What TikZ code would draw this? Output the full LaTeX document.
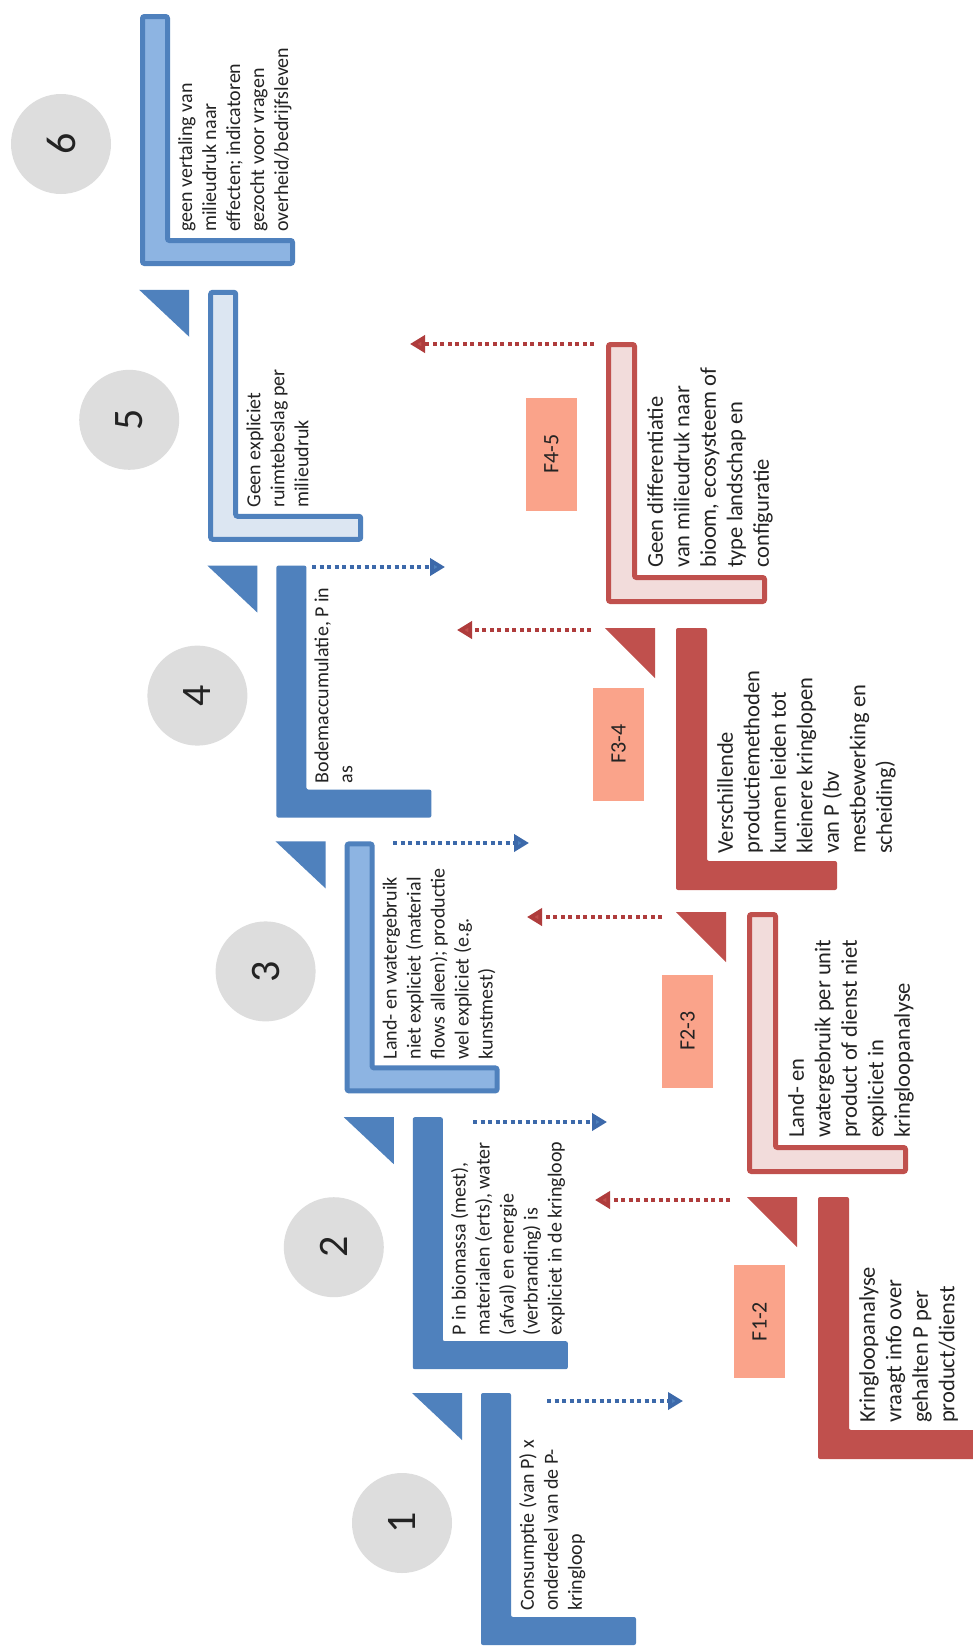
\documentclass[tikz,border=0pt]{standalone}
\usepackage{fontspec}
\setmainfont{Carlito}
\usetikzlibrary{arrows.meta}

\definecolor{stepblue}{RGB}{79,129,189}
\definecolor{dotblue}{RGB}{60,105,170}
\definecolor{midblue}{RGB}{141,180,226}
\definecolor{paleblue}{RGB}{220,230,242}
\definecolor{stepred}{RGB}{192,80,77}
\definecolor{dotred}{RGB}{175,60,60}
\definecolor{palered}{RGB}{242,220,219}
\definecolor{tagfill}{RGB}{250,163,138}
\definecolor{discgray}{RGB}{221,221,221}
\definecolor{inkgray}{RGB}{35,35,35}

% elbow shape: #1 style, (#2,#3) outer top-left, #4 width, #5 height,
% #6 thickness of the upright bar, #7 thickness of the foot
\newcommand\elbow[7]{%
  \path[#1] (#2,#3) -- ++(#6,0) -- ++(0,#5-#7) -- ++(#4-#6,0)
    -- ++(0,#7) -- ++(-#4,0) -- cycle;}

\begin{document}
\begin{tikzpicture}[x=1pt,y=-1pt,
  solidblue/.style={fill=stepblue, rounded corners=2pt},
  midblueline/.style={fill=midblue, draw=stepblue, line width=5pt, rounded corners=2pt},
  paleblueline/.style={fill=paleblue, draw=stepblue, line width=5pt, rounded corners=2pt},
  solidred/.style={fill=stepred, rounded corners=2pt},
  paleredline/.style={fill=palered, draw=stepred, line width=5pt, rounded corners=2pt},
  bluetext/.style={rotate=90, anchor=north west, inner sep=0pt, align=left,
    text=inkgray, font=\fontsize{20}{24}\selectfont},
  redtext/.style={rotate=90, anchor=north west, inner sep=0pt, align=left,
    text=inkgray, font=\fontsize{22.5}{26.5}\selectfont},
  disc/.style={circle, fill=discgray, minimum size=100pt, inner sep=0pt,
    rotate=90, text=inkgray, font=\fontsize{42}{42}\selectfont},
  tag/.style={fill=tagfill, rotate=90, minimum width=113pt, minimum height=51pt,
    inner sep=0pt, text=inkgray, font=\fontsize{22}{22}\selectfont},
  bluedots/.style={draw=dotblue, line width=4pt, dash pattern=on 4pt off 3.5pt,
    -{Triangle[length=15pt,width=17pt,fill=stepblue]}},
  reddots/.style={draw=dotred, line width=4pt, dash pattern=on 4pt off 3.5pt,
    -{Triangle[length=15pt,width=17pt,fill=stepred]}},
]
\useasboundingbox (0,0) rectangle (973,1647);
\fill[white] (0,0) rectangle (973,1647);
\clip (0,0) rectangle (973,1647);

% ---- blue process: elbows ----
\elbow{solidblue}{481}{1393}{155}{252}{30}{28}
\elbow{solidblue}{412.8}{1117.2}{155}{252}{30}{28}
\elbow{midblueline}{347.1}{843.9}{150}{247}{25}{23}
\elbow{solidblue}{276.4}{565.6}{155}{252}{30}{28}
\elbow{paleblueline}{210.7}{292.3}{150}{247}{25}{23}
\elbow{midblueline}{142.5}{16.5}{150}{247}{25}{23}

% ---- blue corner triangles ----
\fill[stepblue] (412,1393) -- (462,1393) -- (462,1440) -- cycle;
\fill[stepblue] (343.8,1117.2) -- (393.8,1117.2) -- (393.8,1164.2) -- cycle;
\fill[stepblue] (275.6,841.4) -- (325.6,841.4) -- (325.6,888.4) -- cycle;
\fill[stepblue] (207.4,565.6) -- (257.4,565.6) -- (257.4,612.6) -- cycle;
\fill[stepblue] (139.2,289.8) -- (189.2,289.8) -- (189.2,336.8) -- cycle;

% ---- red process: elbows ----
\elbow{solidred}{818}{1197}{161}{262}{31}{29}
\elbow{paleredline}{749.5}{914.5}{156}{257}{26}{24}
\elbow{solidred}{676}{628}{161}{262}{31}{29}
\elbow{paleredline}{608.5}{344.5}{156}{257}{26}{24}

% ---- red corner triangles ----
\fill[stepred] (747,1197) -- (797,1197) -- (797,1247) -- cycle;
\fill[stepred] (676,912) -- (726,912) -- (726,962) -- cycle;
\fill[stepred] (605,628) -- (655,628) -- (655,678) -- cycle;

% ---- numbered discs ----
\node[disc] (d1) at (402,1523) {1};
\node[disc] (d2) at (333.8,1247.2) {2};
\node[disc] (d3) at (265.6,971.4) {3};
\node[disc] (d4) at (197.4,695.6) {4};
\node[disc] (d5) at (129.2,419.8) {5};
\node[disc] (d6) at (61,144) {6};

% ---- step texts, blue ----
\node[bluetext] (b1) at (519,1611) {Consumptie (van P) x\\onderdeel van de P-\\kringloop};
\node[bluetext] (b2) at (450.8,1335.2) {P in biomassa (mest),\\materialen (erts), water\\(afval) en energie\\(verbranding) is\\expliciet in de kringloop};
\node[bluetext] (b3) at (382.6,1059.4) {Land- en watergebruik\\niet expliciet (material\\flows alleen); productie\\wel expliciet (e.g.\\kunstmest)};
\node[bluetext] (b4) at (314.4,783.6) {Bodemaccumulatie, P in\\as};
\node[bluetext] (b5) at (246.2,507.8) {Geen expliciet\\ruimtebeslag per\\milieudruk};
\node[bluetext] (b6) at (178,232) {geen vertaling van\\milieudruk naar\\effecten; indicatoren\\gezocht voor vragen\\overheid/bedrijfsleven};

% ---- step texts, red ----
\node[redtext] (r1) at (859,1423) {Kringloopanalyse\\vraagt info over\\gehalten P per\\product/dienst};
\node[redtext] (r2) at (788,1138) {Land- en\\watergebruik per unit\\product of dienst niet\\expliciet in\\kringloopanalyse};
\node[redtext] (r3) at (717,854) {Verschillende\\productiemethoden\\kunnen leiden tot\\kleinere kringlopen\\van P (bv\\mestbewerking en\\scheiding)};
\node[redtext] (r4) at (647,568) {Geen differentiatie\\van milieudruk naar\\bioom, ecosysteem of\\type landschap en\\configuratie};

% ---- transition tags ----
\node[tag] (f12) at (759.5,1321.5) {F1-2};
\node[tag] (f23) at (687.5,1031) {F2-3};
\node[tag] (f34) at (618.5,744) {F3-4};
\node[tag] (f45) at (551.5,454) {F4-5};

% ---- dotted connectors ----
\coordinate (ba1s) at (547,1401);   \coordinate (ba1e) at (683,1401);
\coordinate (ba2s) at (473,1122);   \coordinate (ba2e) at (607,1122);
\coordinate (ba3s) at (393,843);    \coordinate (ba3e) at (529,843);
\coordinate (ba4s) at (312,567);    \coordinate (ba4e) at (445,567);
\draw[bluedots] (ba1s) -- (ba1e);
\draw[bluedots] (ba2s) -- (ba2e);
\draw[bluedots] (ba3s) -- (ba3e);
\draw[bluedots] (ba4s) -- (ba4e);

\coordinate (ra1s) at (730,1200);   \coordinate (ra1e) at (595,1200);
\coordinate (ra2s) at (662,917);    \coordinate (ra2e) at (527,917);
\coordinate (ra3s) at (591,630);    \coordinate (ra3e) at (457,630);
\coordinate (ra4s) at (594,344);    \coordinate (ra4e) at (410,344);
\draw[reddots] (ra1s) -- (ra1e);
\draw[reddots] (ra2s) -- (ra2e);
\draw[reddots] (ra3s) -- (ra3e);
\draw[reddots] (ra4s) -- (ra4e);
\end{tikzpicture}
\end{document}
